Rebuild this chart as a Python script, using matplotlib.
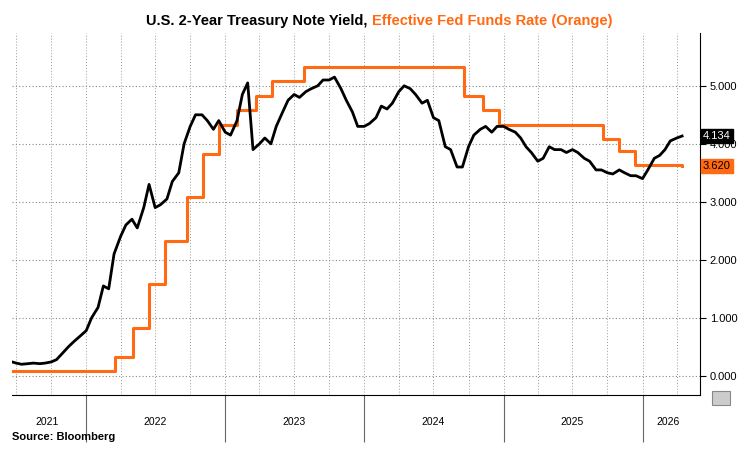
import matplotlib
matplotlib.use("Agg")
import matplotlib.pyplot as plt
import pandas as pd

# 2-year yield, semi-monthly readings (1st & 15th), Jun 2021 - Apr 2026
y2_2021 = [0.16,0.25, 0.22,0.20, 0.21,0.22, 0.21,0.22, 0.24,0.28, 0.40,0.50, 0.60,0.68]
y2_2022 = [0.78,1.00, 1.18,1.55, 1.50,2.10, 2.40,2.60, 2.70,2.55, 2.90,3.30, 2.90,2.95,
           3.05,3.35, 3.50,4.00, 4.30,4.50, 4.50,4.40, 4.25,4.40]
y2_2023 = [4.20,4.15, 4.40,4.85, 5.05,3.90, 4.00,4.10, 4.00,4.30, 4.55,4.75, 4.85,4.80,
           4.90,4.95, 5.00,5.10, 5.10,5.15, 4.95,4.75, 4.55,4.30]
y2_2024 = [4.30,4.35, 4.45,4.65, 4.60,4.70, 4.90,5.00, 4.95,4.85, 4.70,4.75, 4.45,4.40,
           3.95,3.90, 3.60,3.60, 3.95,4.15, 4.25,4.30, 4.20,4.30]
y2_2025 = [4.30,4.25, 4.20,4.10, 3.95,3.85, 3.70,3.75, 3.95,3.90, 3.90,3.85, 3.90,3.85,
           3.75,3.70, 3.55,3.55, 3.50,3.48, 3.55,3.50, 3.45,3.45]
y2_2026 = [3.40,3.55, 3.75,3.80, 3.90,4.05, 4.10,4.134]
y2_vals = y2_2021 + y2_2022 + y2_2023 + y2_2024 + y2_2025 + y2_2026
y2_dates = pd.date_range("2021-06-01", periods=len(y2_vals), freq="SMS")

# Effective fed funds rate steps
ff_dates = pd.to_datetime(["2021-06-01","2022-03-17","2022-05-05","2022-06-16","2022-07-28","2022-09-22",
            "2022-11-03","2022-12-15","2023-02-02","2023-03-23","2023-05-04","2023-07-27",
            "2024-09-19","2024-11-08","2024-12-19","2025-09-18","2025-10-30","2025-12-11","2026-04-15"])
ff_vals = [0.08,0.33,0.83,1.58,2.33,3.08,3.83,4.33,4.58,4.83,5.08,5.33,4.83,4.58,4.33,4.08,3.87,3.64,3.62]

years = [2021,2022,2023,2024,2025,2026]
orange = "#FF6A13"

fig = plt.figure(figsize=(7.44,4.57), dpi=100)
ax = fig.add_axes([12/744, 1-395/457, 688/744, 362/457])
ax.step(ff_dates, ff_vals, where="post", color=orange, lw=2.2)
ax.plot(y2_dates, y2_vals, color="black", lw=2.0)

ax.set_xlim(pd.Timestamp("2021-06-20"), pd.Timestamp("2026-06-01"))
ax.set_ylim(-0.33, 5.91)
ax.yaxis.tick_right()
ax.set_yticks([0,1,2,3,4,5])
ax.set_yticklabels([f"{v:.3f}" for v in [0,1,2,3,4,5]], fontsize=8, family="Liberation Sans")
ax.tick_params(axis="y", length=4, pad=3)
ax.grid(True, which="major", axis="y", ls=(0,(1,2)), color="#888888", lw=0.8)
ax.set_xticks([pd.Timestamp(f"{y}-01-01") for y in years[1:]])
gx = [pd.Timestamp(f"{y}-{m:02d}-01") for y in years for m in (1,4,7,10)]
for d in gx:
    ax.axvline(d, ls=(0,(1,2)), color="#999999", lw=0.7, zorder=0)
ax.tick_params(axis="x", length=34, direction="out", color="#666666", labelbottom=False)
for y in years:
    mid = pd.Timestamp(f"{y}-07-01")
    if y == 2021: mid = pd.Timestamp("2021-09-20")
    if y == 2026: mid = pd.Timestamp("2026-03-10")
    ax.text(mid, -0.80, str(y), ha="center", va="center", fontsize=7.5, family="Liberation Sans")
for s in ["top","left"]:
    ax.spines[s].set_visible(False)

# end labels
ax.text(1.004, (4.134+0.33)/6.24, "4.134", transform=ax.transAxes, fontsize=8, color="white",
        va="center", ha="left", family="Liberation Sans",
        bbox=dict(boxstyle="square,pad=0.2", fc="black", ec="black"))
ax.text(1.004, (3.62+0.33)/6.24, "3.620", transform=ax.transAxes, fontsize=8, color="black",
        va="center", ha="left", family="Liberation Sans",
        bbox=dict(boxstyle="square,pad=0.2", fc=orange, ec=orange))

fig.text(0.5, 0.955, "U.S. 2-Year Treasury Note Yield, ", ha="right", va="center",
         fontsize=10.5, fontweight="bold", family="Liberation Sans")
fig.text(0.5, 0.955, "Effective Fed Funds Rate (Orange)", ha="left", va="center",
         fontsize=10.5, fontweight="bold", family="Liberation Sans", color=orange)
fig.text(12/744, 1-437/457, "Source: Bloomberg", fontsize=8, fontweight="bold",
         family="Liberation Sans", va="center")
fig.patches.append(plt.Rectangle((712/744, 1-405/457), 18/744, 14/457, transform=fig.transFigure,
                                 fc="#cccccc", ec="#888888", lw=0.8))
fig.savefig("out.png", dpi=100)
